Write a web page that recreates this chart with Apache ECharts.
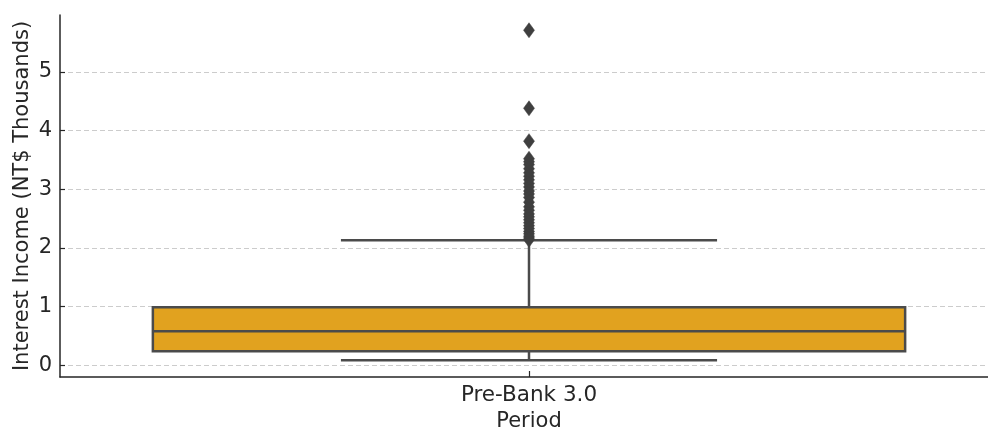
<!DOCTYPE html>
<html>
<head>
<meta charset="utf-8">
<script src="https://cdn.jsdelivr.net/npm/echarts@6/dist/echarts.min.js"></script>
<style>html,body{margin:0;padding:0;background:#fff;}#c{width:988px;height:431px;}</style>
</head>
<body>
<div id="c"></div>
<script>
var categories = ['Pre-Bank 3.0'];
// [min whisker, Q1, median, Q3, max whisker]
var boxStats = [0.085, 0.24, 0.58, 0.99, 2.13];
var outliers = [5.71, 4.38, 3.82, 3.52, 3.47, 3.42, 3.35, 3.28, 3.22, 3.16, 3.1, 3.04, 2.97, 2.92, 2.86, 2.78, 2.7, 2.64, 2.58, 2.53, 2.48, 2.43, 2.38, 2.33, 2.28, 2.24, 2.2, 2.17, 2.14];
var yTicks = [0, 1, 2, 3, 4, 5];

var FONT = 'DejaVu Sans';
var LINE = '#4b4b4b';
var chart = echarts.init(document.getElementById('c'), null, {renderer: 'canvas'});
chart.setOption({
  animation: false,
  backgroundColor: '#ffffff',
  grid: {left: 60, right: -10, top: 15, bottom: 54, containLabel: false, outerBoundsMode: 'none'},
  xAxis: {
    type: 'category',
    data: categories,
    name: 'Period',
    nameLocation: 'middle',
    nameGap: 34,
    nameTextStyle: {fontFamily: FONT, fontSize: 21, color: '#262626'},
    axisLine: {show: true, onZero: false, lineStyle: {color: '#262626', width: 1.5}},
    axisTick: {show: true, inside: true, length: 6, alignWithLabel: true, lineStyle: {color: '#262626', width: 1.2}},
    axisLabel: {fontFamily: FONT, fontSize: 21.5, color: '#262626', margin: 7},
    splitLine: {show: false}
  },
  yAxis: {
    type: 'value',
    min: -0.2,
    max: 5.97,
    name: 'Interest Income (NT$ Thousands)',
    nameLocation: 'middle',
    nameGap: 27,
    nameMoveOverlap: false,
    nameRotate: 90,
    nameTextStyle: {fontFamily: FONT, fontSize: 21, color: '#262626'},
    axisLine: {show: true, onZero: false, lineStyle: {color: '#262626', width: 1.5}},
    axisTick: {show: true, inside: true, length: 5, customValues: yTicks, lineStyle: {color: '#262626', width: 1.2}},
    axisLabel: {fontFamily: FONT, fontSize: 21, color: '#262626', margin: 8, customValues: yTicks},
    splitLine: {show: true, lineStyle: {color: '#cccccc', type: [5, 3], width: 1}}
  },
  series: [
    {
      type: 'custom',
      data: [[0].concat(boxStats)],
      renderItem: function (params, api) {
        var x = api.value(0);
        var pMin = api.coord([x, api.value(1)]);
        var pQ1 = api.coord([x, api.value(2)]);
        var pMed = api.coord([x, api.value(3)]);
        var pQ3 = api.coord([x, api.value(4)]);
        var pMax = api.coord([x, api.value(5)]);
        var bw = api.size([1, 0])[0];
        var half = bw * 0.401;
        var cap = half / 2;
        var cx = pMed[0];
        var ls = {stroke: LINE, lineWidth: 2.5, fill: null};
        return {
          type: 'group',
          children: [
            {type: 'line', shape: {x1: cx, y1: pQ3[1], x2: cx, y2: pMax[1]}, style: ls},
            {type: 'line', shape: {x1: cx, y1: pQ1[1], x2: cx, y2: pMin[1]}, style: ls},
            {type: 'line', shape: {x1: cx - cap, y1: pMax[1], x2: cx + cap, y2: pMax[1]}, style: ls},
            {type: 'line', shape: {x1: cx - cap, y1: pMin[1], x2: cx + cap, y2: pMin[1]}, style: ls},
            {type: 'rect', shape: {x: cx - half, y: pQ3[1], width: 2 * half, height: pQ1[1] - pQ3[1]},
              style: {fill: '#e1a21f', stroke: LINE, lineWidth: 2.5}},
            {type: 'line', shape: {x1: cx - half, y1: pMed[1], x2: cx + half, y2: pMed[1]}, style: ls}
          ]
        };
      },
      z: 2
    },
    {
      type: 'scatter',
      data: outliers.map(function (v) { return [0, v]; }),
      symbol: 'diamond',
      symbolSize: [11, 15],
      itemStyle: {color: '#3f3f3f', borderColor: '#3f3f3f', borderWidth: 0.5, opacity: 1},
      z: 3
    }
  ]
});
</script>
</body>
</html>
